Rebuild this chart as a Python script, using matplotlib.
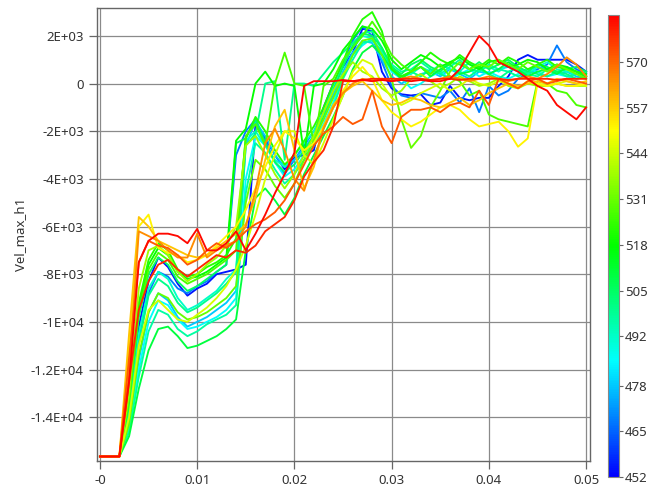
import matplotlib
matplotlib.use("Agg")
import matplotlib.pyplot as plt
import numpy as np
from matplotlib.colors import LinearSegmentedColormap, Normalize
from matplotlib.cm import ScalarMappable

plt.rcParams['font.family'] = ['Noto Sans', 'DejaVu Sans']

# time grid [s], one sample every 1 ms
time = [i / 1000 for i in range(51)]

# Vel_max_h1 in units of 1E+03, one list per run (key = colour value)
c455 = [-15.65, -15.65, -15.65, -13.6, -10.2, -8.3, -7.3, -7.7, -8.4, -8.9,
        -8.6, -8.4, -8.0, -7.9, -7.8, -7.6, -1.7, -2.3, -3.0, -3.6,
        -3.1, -3.0, -2.8, -1.0, 0.0, 0.7, 1.3, 2.3, 2.2, 0.5,
        -0.2, -0.45, -0.5, -0.45, -0.9, -0.8, -0.1, -0.6, -0.7, -0.6,
        -0.6, -0.1, 0.3, 1.0, 1.2, 1.0, 1.0, 1.0, 1.0, 0.8, 0.5]
c468 = [-15.65, -15.65, -15.65, -14.0, -10.8, -8.8, -7.9, -8.1, -8.6, -8.8,
        -8.5, -8.3, -7.9, -7.6, -3.0, -2.0, -1.5, -2.4, -3.3, -3.8,
        -3.2, -2.6, -2.0, -1.2, -0.2, 0.9, 1.8, 2.4, 2.0, 0.9,
        -0.1, -0.5, -0.6, -0.4, -0.5, -0.6, -0.3, -0.8, -0.2, -1.2,
        -0.1, -0.5, -0.3, 0.2, 0.4, 0.6, 0.8, 1.6, 0.9, 0.6, 0.4]
c478 = [-15.65, -15.65, -15.65, -14.2, -11.6, -9.6, -8.8, -9.1, -9.8, -10.2,
        -10.0, -9.8, -9.5, -9.2, -8.7, -2.6, -1.6, -2.2, -3.0, -3.5,
        -3.2, -2.7, -2.2, -1.5, -0.5, 0.5, 1.3, 1.8, 1.7, 1.0,
        0.3, 0.0, 0.2, 0.4, 0.5, 0.3, 0.6, 0.4, 0.2, 0.5,
        0.4, 0.6, 0.7, 0.5, 0.6, 0.7, 0.6, 0.4, 0.5, 0.3, 0.2]
c485 = [-15.65, -15.65, -15.65, -14.5, -12.0, -10.0, -9.1, -9.3, -9.9, -10.3,
        -10.2, -10.0, -9.8, -9.5, -9.0, -4.0, -2.2, -2.6, -3.3, -3.9,
        -3.6, -3.0, -2.4, -1.7, -0.8, 0.3, 1.2, 1.6, 1.9, 1.2,
        0.5, 0.2, -0.2, 0.0, 0.3, 0.5, 0.2, 0.4, 0.6, 0.3,
        0.5, 0.3, 0.2, 0.4, 0.6, 0.5, 0.3, 0.4, 0.3, 0.2, 0.3]
c492 = [-15.65, -15.65, -15.65, -13.8, -10.5, -8.6, -7.9, -8.2, -9.0, -9.5,
        -9.3, -9.0, -8.7, -8.2, -7.8, -2.4, -2.0, -2.6, -3.2, -3.5,
        -3.0, -2.5, -2.0, -1.2, -0.1, 0.8, 1.5, 2.0, 1.9, 1.3,
        0.6, 0.3, 0.4, 0.7, 0.5, 0.8, 0.6, 0.5, 0.9, 0.6,
        0.7, 0.5, 0.8, 0.6, 0.4, 0.7, 0.9, 0.6, 0.5, 0.4, 0.5]
c497 = [-15.65, -15.65, -15.65, -14.6, -12.3, -10.4, -9.5, -9.7, -10.3, -10.6,
        -10.4, -10.1, -9.9, -9.7, -9.3, -4.6, -2.5, -2.9, -3.6, -4.2,
        -3.8, -3.2, -2.6, -1.9, -1.0, 0.2, 1.0, 1.7, 1.8, 1.4,
        0.8, 0.5, 0.6, 0.9, 0.6, 0.4, 0.7, 1.0, 0.6, 0.5,
        0.8, 0.6, 0.5, 0.7, 0.4, 0.3, 0.6, 0.5, 0.3, 0.4, 0.3]
c500 = [-15.65, -15.65, -15.65, -14.0, -10.9, -8.9, -8.2, -8.5, -9.2, -9.6,
        -9.4, -9.1, -8.8, -8.4, -7.9, -2.6, -2.1, 0.0, 0.1, -3.2,
        0.0, 0.0, -0.1, 0.4, 0.9, 1.3, 1.7, 2.1, 2.2, 1.5,
        0.7, 0.3, 0.5, 0.3, 0.6, 0.4, 0.2, 0.5, 0.3, 0.6,
        0.4, 0.2, 0.5, 0.3, 0.5, 0.4, 0.3, 0.5, 0.4, 0.2, 0.3]
c505 = [-15.65, -15.65, -15.65, -13.5, -9.8, -8.0, -7.3, -7.6, -8.3, -8.7,
        -8.5, -8.2, -7.9, -7.6, -2.5, -2.3, -1.5, -2.5, -3.3, -3.7,
        -3.4, -2.8, -2.2, -1.4, -0.3, 0.7, 1.6, 2.1, 2.0, 1.5,
        0.7, 0.4, 0.8, 1.0, 0.7, 0.5, 0.9, 0.8, 0.6, 0.9,
        0.6, 0.8, 1.0, 0.7, 0.5, 0.8, 0.7, 0.5, 0.6, 0.7, 0.5]
c510 = [-15.65, -15.65, -15.65, -14.8, -12.8, -11.2, -10.3, -10.2, -10.6, -11.1,
        -11.0, -10.8, -10.6, -10.3, -9.9, -7.0, -4.8, -4.4, -4.9, -5.5,
        -4.8, -3.8, -3.0, -2.2, -1.4, -0.5, 0.6, 1.3, 1.6, 1.2,
        0.6, 0.2, 0.5, 0.7, 0.3, 0.6, 0.8, 0.4, 0.5, 0.7,
        0.4, 0.6, 0.9, 0.6, 0.3, 0.5, 0.6, 0.4, 0.7, 0.5, 0.3]
c518 = [-15.65, -15.65, -15.65, -13.2, -9.4, -7.6, -6.9, -7.2, -7.9, -8.2,
        -8.1, -7.9, -7.6, -7.3, -2.4, -1.9, 0.0, 0.5, -0.1, 0.0,
        -0.1, -3.0, -0.1, 0.0, 0.6, 1.4, 1.9, 2.4, 2.3, 1.8,
        1.0, 0.6, 0.9, 1.2, 1.0, 0.7, 0.9, 1.1, 0.8, 0.6,
        0.9, 1.0, 0.7, 0.8, 1.0, 0.9, 0.6, 0.8, 0.7, 0.5, 0.4]
c522 = [-15.65, -15.65, -15.65, -13.0, -9.2, -7.4, -6.7, -7.0, -7.8, -8.1,
        -8.0, -7.7, -7.5, -7.2, -6.5, -2.3, -1.4, -2.0, -2.8, -3.4,
        -3.0, -2.4, -1.8, -1.0, 0.0, 0.9, 2.0, 2.7, 3.0, 2.2,
        0.6, 0.3, 0.5, 0.9, 1.3, 1.0, 0.8, 1.2, 0.9, 0.7,
        1.0, 0.8, 1.1, 0.9, 0.6, 0.8, 1.0, 0.7, 0.6, 0.5, 0.3]
c527 = [-15.65, -15.65, -15.65, -13.3, -9.6, -7.8, -7.1, -7.4, -8.1, -8.4,
        -8.2, -8.0, -7.7, -7.4, -7.0, -2.2, -1.7, -2.6, 0.0, 1.3,
        0.0, -0.1, -2.6, -0.1, 0.2, 1.0, 1.5, 2.0, 2.6, 2.0,
        1.2, 0.8, 0.5, 0.7, 0.4, 0.8, 0.3, 0.1, -0.5, -0.3,
        -1.3, -1.5, -1.6, -1.7, -1.8, 0.1, 0.0, -0.3, -0.4, -0.9, -1.0]
c531 = [-15.65, -15.65, -15.65, -14.3, -11.4, -9.6, -8.8, -9.0, -9.6, -9.9,
        -9.8, -9.6, -9.3, -9.0, -8.5, -5.0, -3.2, -3.6, -4.3, -4.8,
        -4.2, -3.2, -2.4, -1.5, -0.6, 0.3, 1.2, 1.8, 1.9, 1.2,
        0.2, -1.5, -2.7, -2.2, -1.0, -0.3, 0.5, 0.9, 0.6, 0.8,
        0.7, 1.0, 0.8, 0.6, 0.9, 0.7, 0.5, 0.8, 0.6, 0.4, 0.2]
c538 = [-15.65, -15.65, -15.65, -13.0, -8.6, -7.0, -6.8, -7.2, -7.9, -8.3,
        -8.0, -7.6, -7.3, -6.8, -6.0, -2.6, -2.2, -3.0, -3.8, -4.4,
        -3.8, -3.0, -2.2, -1.2, -0.3, 0.4, 0.9, 0.5, 0.3, -0.2,
        -0.5, -0.3, 0.2, 0.4, 0.1, -0.2, 0.0, 0.3, 0.1, -0.1,
        0.0, 0.2, -0.1, -0.2, 0.0, -0.1, -0.1, 0.0, -0.1, -0.1, -0.1]
c545 = [-15.65, -15.65, -15.65, -14.0, -11.0, -9.5, -9.1, -9.5, -9.9, -10.0,
        -9.7, -9.4, -9.0, -8.5, -7.8, -6.8, -5.5, -4.0, -3.0, -2.0,
        -2.0, -3.0, -3.4, -2.5, -1.5, -0.5, 0.5, 1.0, 0.8, 0.0,
        -0.6, -0.9, -0.7, -0.4, -0.2, 0.0, -0.3, -0.1, 0.2, 0.0,
        -0.1, 0.1, 0.0, -0.2, 0.1, 0.0, -0.1, 0.0, 0.1, 0.0, -0.1]
c552 = [-15.65, -15.65, -15.65, -11.0, -6.0, -5.5, -6.9, -7.1, -7.2, -7.5,
        -7.4, -7.2, -6.8, -6.4, -6.0, -5.3, -4.4, -3.5, -2.6, -2.0,
        -2.3, -2.8, -2.5, -1.8, -1.0, -0.3, 0.3, 0.7, 0.2, -0.7,
        -1.2, -1.5, -1.8, -1.6, -1.3, -1.0, -0.9, -1.1, -1.5, -1.8,
        -1.7, -1.6, -2.0, -2.65, -2.3, 0.0, -0.1, 0.0, -0.1, -0.1, 0.0]
c558 = [-15.65, -15.65, -15.65, -10.5, -5.6, -6.0, -6.6, -6.8, -7.0, -7.2,
        -7.3, -7.2, -6.9, -6.6, -6.3, -5.9, -4.8, -3.2, -1.8, -1.1,
        -2.8, -4.4, -3.5, -1.8, -0.9, -0.4, -0.1, 0.1, -0.3, -0.7,
        -0.9, -0.8, -0.6, -0.7, -0.9, -1.0, -0.8, -0.6, -0.9, -0.7,
        -0.4, -0.2, 0.0, -0.1, 0.0, 0.1, 0.0, 0.2, 0.1, 0.0, 0.1]
c565 = [-15.65, -15.65, -15.65, -12.0, -6.2, -6.4, -6.6, -7.0, -7.3, -7.3,
        -6.3, -7.3, -7.0, -6.8, -6.6, -6.0, -4.5, -2.5, -1.9, -2.8,
        -4.0, -4.5, -3.2, -1.9, -1.0, -0.4, 0.0, 0.2, 0.1, 0.2,
        0.1, 0.2, 0.3, 0.2, 0.1, 0.2, 0.3, 0.2, 0.1, 0.2,
        0.3, 0.2, 0.1, 0.2, 0.3, 0.2, 0.4, 0.7, 1.1, 0.8, 0.3]
c572 = [-15.65, -15.65, -15.65, -11.5, -7.5, -6.6, -6.8, -6.9, -7.2, -7.6,
        -7.4, -7.0, -6.7, -6.9, -6.6, -6.2, -5.9, -5.7, -5.4, -4.9,
        -4.2, -3.4, -2.6, -2.1, -1.8, -1.4, -1.7, -1.5, -0.3, -1.8,
        -2.5, -1.4, -1.1, -1.1, -1.0, -1.2, -0.9, -0.8, -1.0, -0.3,
        -0.9, 0.2, 0.0, -0.2, 0.1, 0.2, 0.0, 0.1, 0.2, 0.1, 0.0]
c578 = [-15.65, -15.65, -15.65, -12.5, -9.5, -8.3, -7.6, -7.4, -7.8, -8.1,
        -7.8, -7.5, -7.2, -7.3, -7.0, -7.1, -6.8, -6.2, -5.9, -5.6,
        -4.9, -3.9, -3.3, -2.8, -1.8, 0.1, 0.1, 0.15, 0.2, 0.2,
        0.2, 0.2, 0.2, 0.2, 0.15, 0.2, 0.2, 0.15, 0.2, 0.2,
        0.2, 0.2, 0.15, 0.2, 0.2, 0.2, 0.2, 0.15, 0.2, 0.2, 0.2]
c582 = [-15.65, -15.65, -15.65, -12.5, -7.5, -6.6, -6.3, -6.3, -6.4, -6.7,
        -6.1, -7.0, -7.0, -6.7, -6.2, -7.0, -6.3, -5.5, -4.6, -3.8,
        -2.9, -0.1, 0.1, 0.1, 0.1, 0.15, 0.1, 0.15, 0.1, 0.15,
        0.1, 0.15, 0.1, 0.15, 0.1, 0.1, 0.2, 0.6, 1.3, 2.0,
        1.6, 0.9, 0.7, 0.5, 0.2, -0.1, -0.3, -0.9, -1.2, -1.5, -1.0]

run_values = [455, 468, 478, 485, 492, 497, 500, 505, 510, 518, 522,
              527, 531, 538, 545, 552, 558, 565, 572, 578, 582]
runs = [c455, c468, c478, c485, c492, c497, c500, c505, c510, c518, c522,
        c527, c531, c538, c545, c552, c558, c565, c572, c578, c582]

y_ticks = [2000, 0, -2000, -4000, -6000, -8000, -10000, -12000, -14000]
y_labels = ['2E+03', '0', '-2E+03', '-4E+03', '-6E+03', '-8E+03',
            '-1E+04', '-1.2E+04', '-1.4E+04']
x_ticks = [0, 0.01, 0.02, 0.03, 0.04, 0.05]
x_labels = ['-0', '0.01', '0.02', '0.03', '0.04', '0.05']
cbar_ticks = [452, 465, 478, 492, 505, 518, 531, 544, 557, 570]

cmap = LinearSegmentedColormap.from_list(
    'rainbow5', ['#0000ff', '#00ffff', '#00ff00', '#ffff00', '#ff0000'])
norm = Normalize(vmin=452, vmax=583.4)

fig = plt.figure(figsize=(6.48, 4.86), dpi=100)
ax = fig.add_axes([0.1497, 0.0514, 0.7608, 0.9321])

for val, ys in zip(run_values, runs):
    ax.plot(time, np.array(ys) * 1000, color=cmap(norm(val)), lw=1.35)

ax.set_xlim(-0.0003, 0.0504)
ax.set_ylim(-15840, 3170)
ax.set_xticks(x_ticks)
ax.set_xticklabels(x_labels)
ax.set_yticks(y_ticks)
ax.set_yticklabels(y_labels)
ax.grid(True, color='#8a8a8a', lw=0.9)
ax.set_axisbelow(True)
ax.tick_params(labelsize=9.5, colors='#333333', length=6, width=0.9)
ax.tick_params(axis='both', color='#666666')
for s in ax.spines.values():
    s.set_color('#666666')
    s.set_linewidth(1.0)
ax.set_ylabel('Vel_max_h1', fontsize=9.5, color='#333333', labelpad=3)

cax = fig.add_axes([0.9375, 0.0185, 0.0185, 0.951])
cb = fig.colorbar(ScalarMappable(norm=norm, cmap=cmap), cax=cax)
cb.set_ticks(cbar_ticks)
cb.set_ticklabels([str(v) for v in cbar_ticks])
cb.ax.tick_params(labelsize=9.5, colors='#333333', length=3, width=0.8, pad=1)
cb.ax.tick_params(color='#666666')
cb.outline.set_edgecolor('#888888')
cb.outline.set_linewidth(0.8)

fig.savefig('out.png', dpi=100)
